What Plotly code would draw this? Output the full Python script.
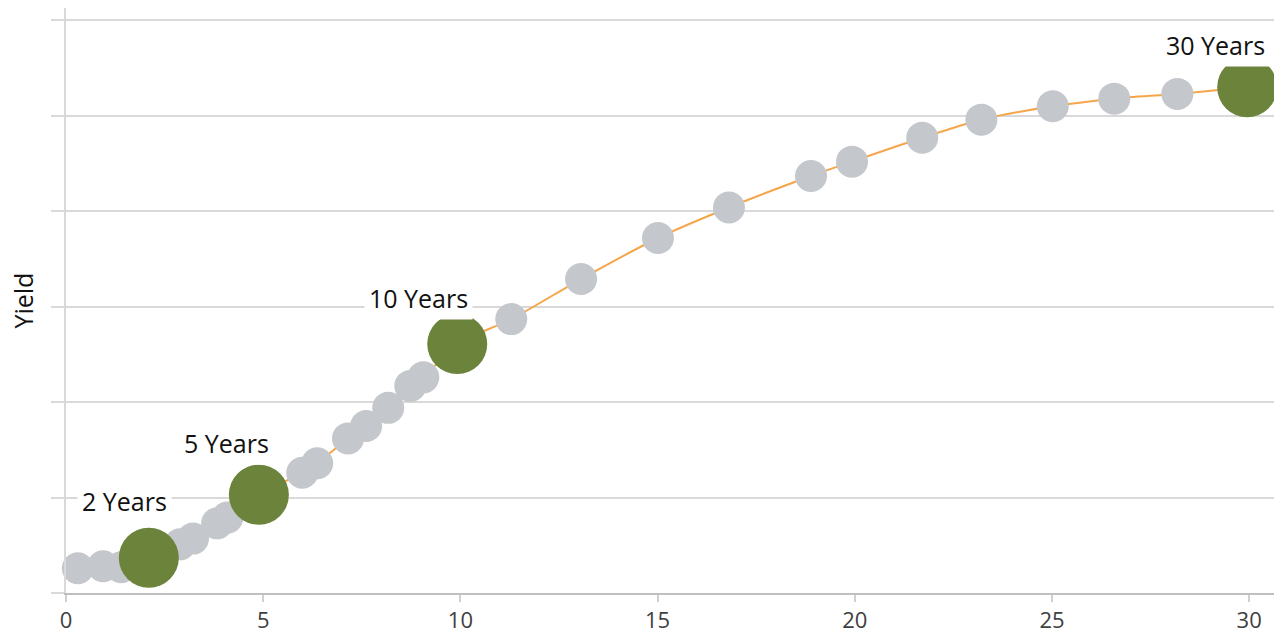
import plotly.graph_objects as go

# Pontos da curva (maturidade em anos, yield em unidades do eixo)
bond_maturity = [0.30, 0.94, 1.40, 2.89, 3.22, 3.83, 4.09, 5.99, 6.37, 7.15, 7.61,
                 8.17, 8.73, 9.06, 11.29, 13.06, 15.01, 16.81, 18.89, 19.93,
                 21.71, 23.21, 25.02, 26.58, 28.18]
bond_yield = [0.26, 0.28, 0.27, 0.51, 0.57, 0.73, 0.79, 1.26, 1.36, 1.62, 1.75,
              1.94, 2.17, 2.26, 2.87, 3.29, 3.72, 4.04, 4.37, 4.52,
              4.77, 4.96, 5.10, 5.18, 5.23]

# Maturidades de referência (destacadas em verde)
key_maturity = [2.10, 4.89, 9.92, 29.95]
key_yield = [0.37, 1.03, 2.61, 5.30]
key_labels = ["2 Years", "5 Years", "10 Years", "30 Years"]
label_x = [1.48, 4.08, 8.93, 29.15]
label_y = [0.96, 1.57, 3.09, 5.74]

x_ticks = [0, 5, 10, 15, 20, 25, 30]
y_ticks = [0, 1, 2, 3, 4, 5, 6]

FONT = "Open Sans"

# Curva completa ordenada por maturidade
curve = sorted(zip(bond_maturity + key_maturity, bond_yield + key_yield))
curve_x = [p[0] for p in curve]
curve_y = [p[1] for p in curve]

fig = go.Figure()

# Linha suavizada
fig.add_trace(go.Scatter(
    x=curve_x, y=curve_y, mode="lines",
    line=dict(color="#F5A54A", width=2, shape="spline", smoothing=0.8),
    hoverinfo="skip", showlegend=False,
))

# Pontos cinzas
fig.add_trace(go.Scatter(
    x=bond_maturity, y=bond_yield, mode="markers",
    marker=dict(size=32, color="#C4C7CC", line=dict(width=0)),
    cliponaxis=False, showlegend=False,
))

# Pontos de referência
fig.add_trace(go.Scatter(
    x=key_maturity, y=key_yield, mode="markers",
    marker=dict(size=60, color="#6B833A", line=dict(width=0)),
    cliponaxis=False, showlegend=False,
))

for lx, ly, txt in zip(label_x, label_y, key_labels):
    fig.add_annotation(
        x=lx, y=ly, text=txt, showarrow=False,
        xanchor="center", yanchor="middle",
        font=dict(family=FONT, size=25, color="#111111"),
        bgcolor="white", borderpad=4,
    )

# Título do eixo Y
fig.add_annotation(
    xref="paper", yref="paper", x=-0.0364, y=0.5,
    text="Yield", textangle=-90, showarrow=False,
    xanchor="center", yanchor="middle",
    font=dict(family=FONT, size=25, color="#111111"),
)

fig.update_layout(
    width=1274, height=634,
    margin=dict(l=66, r=0, t=8, b=41),
    plot_bgcolor="white",
    paper_bgcolor="white",
    font=dict(family=FONT, size=24, color="#404040"),
    xaxis=dict(
        range=[0, 30.63], tickvals=x_ticks, automargin=False,
        showgrid=False, zeroline=False,
        showline=True, linecolor="#BFBFBF", linewidth=2,
        ticks="outside", ticklen=7, tickcolor="#D0D0D0", tickwidth=1.5,
        tickfont=dict(family=FONT, size=22, color="#404040"),
    ),
    yaxis=dict(
        range=[0, 6.13], tickvals=y_ticks, automargin=False,
        showticklabels=False,
        showgrid=True, gridcolor="#D9D9D9", gridwidth=1.5,
        zeroline=False,
        showline=True, linecolor="#D9D9D9", linewidth=1.5,
        ticks="outside", ticklen=13, tickcolor="#D9D9D9", tickwidth=1.5,
    ),
)

# Remove a margem padrão do body para o gráfico ocupar a janela toda
fig.write_html(
    "out.html",
    config={"displayModeBar": False},
    post_script="document.body.style.margin='0';",
)
